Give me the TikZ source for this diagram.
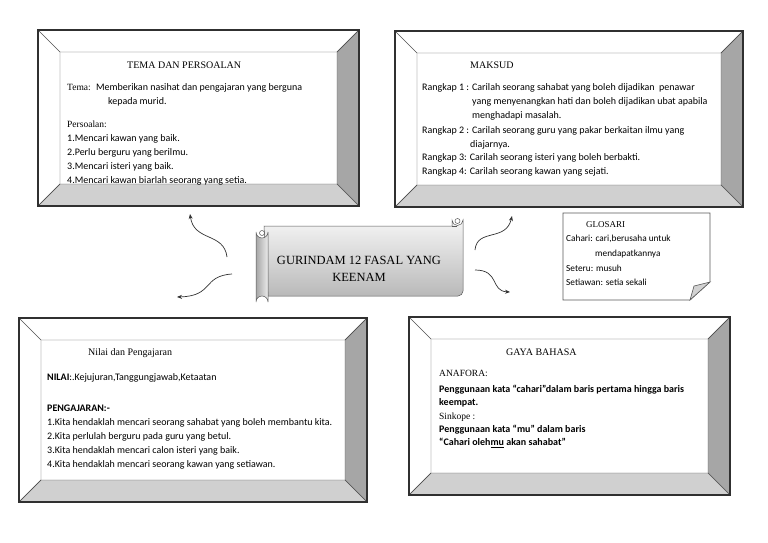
\documentclass[tikz,border=0pt]{standalone}
\usepackage{fontspec}
\setmainfont{Liberation Serif}
\newfontfamily\calibri{Carlito}
\usepackage{xcolor}
\usepackage{tikz}
\usetikzlibrary{calc, arrows.meta, positioning}
\definecolor{bevelright}{HTML}{A6A6A6}
\definecolor{bevelbottom}{HTML}{D0D0D0}
\definecolor{bevelline}{HTML}{505050}
\definecolor{frameline}{HTML}{303030}
\tikzset{
  frametitle/.style={anchor=west,inner sep=0pt,font=\fontsize{10}{12}\selectfont},
  bodytext/.style={anchor=west,inner sep=0pt,font=\calibri\fontsize{10}{12}\selectfont},
  glosstext/.style={anchor=west,inner sep=0pt,font=\calibri\fontsize{9.3}{11}\selectfont},
  curvearrow/.style={-{Stealth[length=5pt,width=4pt]}, draw=black!80, line width=0.7pt}
}
% bevelled frame: x1, y1, x2, y2 (bevel 22)
\newcommand{\bevelframe}[4]{%
  \fill[white] (#1,#2) rectangle (#3,#4);
  \filldraw[fill=bevelright,draw=bevelline] (#3,#2) -- (#3,#4) -- ({#3-22},{#4-22}) -- ({#3-22},{#2+22}) -- cycle;
  \filldraw[fill=bevelbottom,draw=bevelline] (#1,#4) -- (#3,#4) -- ({#3-22},{#4-22}) -- ({#1+22},{#4-22}) -- cycle;
  \draw[bevelline] (#1,#2) -- ({#1+22},{#2+22}) -- ({#3-22},{#2+22}) -- (#3,#2);
  \draw[bevelline] ({#1+22},{#2+22}) -- ({#1+22},{#4-22}) -- (#1,#4);
  \draw[frameline, line width=1.2pt] (#1,#2) rectangle (#3,#4);
}

\begin{document}
\begin{tikzpicture}[x=1pt,y=-1pt]
  \useasboundingbox[fill=white] (0,0) rectangle (768,543);

  % frames
  \bevelframe{38}{30}{359}{206}
  \bevelframe{395}{31}{743}{207}
  \bevelframe{19}{318}{367}{502}
  \bevelframe{409}{317}{730}{495}

  % tema dan persoalan
  \node[frametitle] (tema) at (127,65) {TEMA DAN PERSOALAN};
  \node[bodytext] (tema1) at (67,88) {{\rmfamily\fontsize{9.5}{11}\selectfont Tema:} \ Memberikan nasihat dan pengajaran yang berguna};
  \node[bodytext] (tema2) at (108,102) {kepada murid.};
  \node[frametitle] (soal) at (67,124) {\fontsize{9.5}{11}\selectfont Persoalan:};
  \node[bodytext] (soal1) at (67,139) {1.Mencari kawan yang baik.};
  \node[bodytext] (soal2) at (67,153) {2.Perlu berguru yang berilmu.};
  \node[bodytext] (soal3) at (67,167) {3.Mencari isteri yang baik.};
  \node[bodytext] (soal4) at (67,181) {4.Mencari kawan biarlah seorang yang setia.};

  % maksud
  \node[frametitle] (maksud) at (470,65) {MAKSUD};
  \node[bodytext] (rk1) at (422,88) {Rangkap 1 : Carilah seorang sahabat yang boleh dijadikan \ penawar};
  \node[bodytext] (rk1b) at (472,102) {yang menyenangkan hati dan boleh dijadikan ubat apabila};
  \node[bodytext] (rk1c) at (472,116) {menghadapi masalah.};
  \node[bodytext] (rk2) at (422,131) {Rangkap 2 : Carilah seorang guru yang pakar berkaitan ilmu yang};
  \node[bodytext] (rk2b) at (470,145) {diajarnya.};
  \node[bodytext] (rk3) at (422,158) {Rangkap 3: Carilah seorang isteri yang boleh berbakti.};
  \node[bodytext] (rk4) at (422,172) {Rangkap 4: Carilah seorang kawan yang sejati.};

  % nilai dan pengajaran
  \node[frametitle] (nilai) at (88,353) {Nilai dan Pengajaran};
  \node[bodytext] (nilai1) at (47,378) {\textbf{NILAI}:.Kejujuran,Tanggungjawab,Ketaatan};
  \node[bodytext] (ajar) at (47,408) {\textbf{PENGAJARAN:-}};
  \node[bodytext] (ajar1) at (47,423) {1.Kita hendaklah mencari seorang sahabat yang boleh membantu kita.};
  \node[bodytext] (ajar2) at (47,437) {2.Kita perlulah berguru pada guru yang betul.};
  \node[bodytext] (ajar3) at (47,451) {3.Kita hendaklah mencari calon isteri yang baik.};
  \node[bodytext] (ajar4) at (47,465) {4.Kita hendaklah mencari seorang kawan yang setiawan.};

  % gaya bahasa
  \node[frametitle] (gaya) at (506,352) {GAYA BAHASA};
  \node[frametitle] (anafora) at (439,373) {\fontsize{9.5}{11}\selectfont ANAFORA:};
  \node[bodytext] (gaya1) at (439,390) {\bfseries Penggunaan kata “cahari”dalam baris pertama hingga baris};
  \node[bodytext] (gaya2) at (439,403) {\bfseries keempat.};
  \node[frametitle] (sinkope) at (439,417) {\fontsize{9.5}{11}\selectfont Sinkope :};
  \node[bodytext] (gaya3) at (439,430) {\bfseries Penggunaan kata “mu” dalam baris};
  \node[bodytext] (gaya4) at (439,443) {\bfseries “Cahari oleh\underline{mu} akan sahabat”};

  % scroll
  \shade[top color=gray!8, bottom color=gray!55, draw=gray!70!black, line width=0.5pt]
    (264,226) -- (452,226) -- (452,220) arc[start angle=180,end angle=0,radius=5.5]
    -- (463,291) arc[start angle=0,end angle=90,radius=5] -- (268,296) -- cycle;
  \draw[gray!70!black, line width=0.5pt] (457.5,221) circle[radius=2.5];
  \draw[gray!70!black, line width=0.5pt] (452,226) -- (457,226);
  \shade[left color=gray!70, right color=gray!15, draw=gray!70!black, line width=0.5pt]
    (256,232) arc[start angle=180,end angle=0,radius=6] -- (268,302)
    arc[start angle=0,end angle=-180,radius=6] -- cycle;
  \draw[gray!70!black, line width=0.5pt] (262,233) circle[radius=2.5];
  \node[align=center, font=\fontsize{12.5}{17}\selectfont] (scroll) at (359,269) {GURINDAM 12 FASAL YANG\\KEENAM};

  % glosari
  \filldraw[fill=white, draw=gray!70!black, line width=0.6pt]
    (563,213) -- (710,213) -- (710,282) -- (690,300) -- (563,300) -- cycle;
  \filldraw[fill=gray!35, draw=gray!70!black, line width=0.6pt]
    (710,282) -- (690,300) -- (694,286) -- cycle;
  \node[frametitle, font=\fontsize{9}{11}\selectfont] (glosari) at (586,225) {GLOSARI};
  \node[glosstext] (gl1) at (566,239) {Cahari: cari,berusaha untuk};
  \node[glosstext] (gl2) at (595,254) {mendapatkannya};
  \node[glosstext] (gl3) at (566,268) {Seteru: musuh};
  \node[glosstext] (gl4) at (566,282) {Setiawan: setia sekali};

  % arrows
  \coordinate (a1) at (227,257);
  \coordinate (a1t) at (190,214);
  \coordinate (a2) at (232,274);
  \coordinate (a2t) at (177,297);
  \coordinate (a3) at (475,250);
  \coordinate (a3t) at (512,216);
  \coordinate (a4) at (475,270);
  \coordinate (a4t) at (510,292);
  \draw[curvearrow] (a1) .. controls (224,232) and (194,242) .. (a1t);
  \draw[curvearrow] (a2) .. controls (202,276) and (214,296) .. (a2t);
  \draw[curvearrow] (a3) .. controls (477,228) and (506,242) .. (a3t);
  \draw[curvearrow] (a4) .. controls (500,270) and (490,291) .. (a4t);
\end{tikzpicture}
\end{document}
